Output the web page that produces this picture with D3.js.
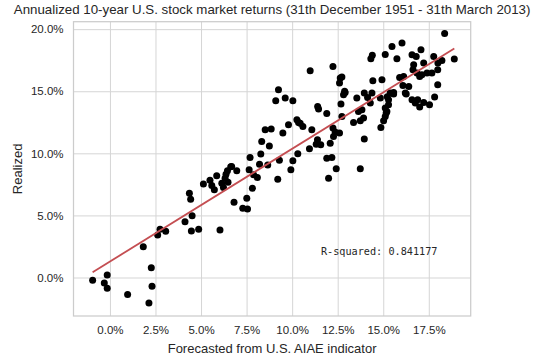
<!DOCTYPE html>
<html>
<head>
<meta charset="utf-8">
<script src="https://cdn.jsdelivr.net/npm/d3@7/dist/d3.min.js"></script>
<style>
  html, body { margin: 0; padding: 0; background: #fff; }
  svg { display: block; }
</style>
</head>
<body>
<svg id="chart" width="536" height="358"></svg>
<script>
// ---- Data (annualized %) ----
const forecasted = [
  -0.95, -0.31, -0.15, -0.15, 0.97, 2.14, 2.31, 2.27, 1.83, 2.62, 2.75, 3.06, 4.12, 4.51, 4.47, 4.87, 6.04, 4.36, 4.43,
  5.13, 5.49, 5.59, 5.73, 5.86, 6.14, 6.23, 6.32, 6.37, 6.45, 6.63, 6.96, 6.48, 6.81, 7.29, 7.55, 7.51, 7.82, 8.09, 7.64,
  7.69, 7.88, 8.21, 8.28, 8.33, 8.52, 8.85, 8.75, 8.66, 9.21, 9.30, 9.49, 9.80, 9.10, 9.62, 10.04, 9.25, 10.26, 10.59,
  10.35, 10.04, 9.93, 10.31, 10.95, 11.08, 11.32, 11.57, 11.40, 11.45, 11.90, 10.44, 10.99, 12.24, 12.64, 12.60, 12.88,
  12.82, 12.68, 12.73, 12.24, 12.36, 12.60, 12.27, 12.09, 11.90, 12.18, 12.42, 12.00, 13.74, 13.96, 13.37, 13.74, 13.92,
  13.64, 13.83, 13.55, 13.96, 14.14, 14.38, 14.29, 14.43, 14.32, 14.40, 15.11, 14.93, 14.84, 15.29, 15.38, 15.57, 15.29,
  15.20, 15.11, 15.02, 14.87, 15.75, 15.48, 16.03, 15.90, 16.08, 16.26, 12.73, 12.91, 11.39, 18.37, 18.90, 18.22, 18.00,
  17.77, 17.99, 17.67, 17.40, 17.12, 17.22, 17.07, 16.81, 16.58, 16.67, 16.63, 16.85, 17.00, 16.12, 16.40, 16.21, 17.99,
  17.82, 17.54, 17.22, 17.00, 16.89, 16.76, 16.58, 15.22, 15.11, 15.16, 15.57, 6.68
];
const realized = [
  -0.23, -0.44, 0.20, -0.87, -1.36, -2.06, -0.71, 0.79, 2.48, 3.43, 3.89, 3.72, 4.48, 4.98, 3.75, 3.89, 3.83, 6.79, 6.30,
  7.52, 7.84, 7.40, 7.06, 8.19, 7.60, 7.24, 8.00, 8.32, 8.59, 8.91, 8.59, 7.68, 6.06, 5.58, 5.52, 6.38, 7.19, 8.05, 8.67,
  9.66, 8.27, 9.13, 9.94, 10.95, 11.90, 11.95, 10.60, 9.07, 7.92, 9.45, 11.63, 12.30, 14.23, 14.45, 14.23, 15.12, 12.70, 12.16,
  12.48, 9.40, 8.67, 9.96, 10.36, 11.90, 10.74, 10.69, 13.77, 13.56, 13.20, 12.43, 16.65, 17.00, 16.06, 15.66, 14.99,
  14.72, 13.97, 12.97, 12.03, 11.71, 11.63, 11.35, 10.82, 9.61, 9.66, 8.75, 8.00, 8.75, 11.15, 12.48, 12.62, 12.84,
  13.37, 13.51, 14.45, 14.85, 14.50, 14.85, 14.05, 15.85, 17.62, 17.90, 17.96, 15.93, 14.45, 14.31, 14.85, 14.77, 13.91,
  13.37, 12.97, 12.62, 12.08, 17.62, 18.61, 18.89, 16.11, 15.47, 14.77, 16.15, 14.90, 11.09, 19.64, 17.60, 17.48, 17.27,
  17.80, 16.73, 16.47, 16.47, 16.33, 17.27, 18.35, 17.80, 17.94, 17.14, 16.73, 16.47, 16.19, 16.19, 15.39, 14.85, 15.52,
  14.53, 13.91, 14.10, 13.73, 14.31, 14.05, 14.31, 14.56, 13.65, 13.24, 14.90, 8.94
];
const xTicks = [0, 2.5, 5, 7.5, 10, 12.5, 15, 17.5];
const yTicks = [0, 5, 10, 15, 20];
const titleText = "Annualized 10-year U.S. stock market returns (31th December 1951 - 31th March 2013)";
const xLabel = "Forecasted from U.S. AIAE indicator";
const yLabel = "Realized";
const rSquaredLabel = "R-squared: 0.841177";

// ---- Layout ----
const frame = { left: 73.5, right: 470.7, top: 21.7, bottom: 316 };
const svg = d3.select("#chart");
const font = "'Liberation Sans', Arial, sans-serif";
const textColor = "#262626";
const gridColor = "#d5d5d5";

const x = d3.scaleLinear().domain([-2.0, 19.8]).range([frame.left, frame.right]);
const y = d3.scaleLinear().domain([-3.1, 20.6]).range([frame.bottom, frame.top]);
const pct = d => d.toFixed(1) + "%";

// grid + tick labels via axes
const gx = svg.append("g").attr("transform", `translate(0,${frame.bottom})`)
  .call(d3.axisBottom(x).tickValues(xTicks).tickFormat(pct).tickSize(-(frame.bottom - frame.top)).tickPadding(10));
const gy = svg.append("g").attr("transform", `translate(${frame.left},0)`)
  .call(d3.axisLeft(y).tickValues(yTicks).tickFormat(pct).tickSize(-(frame.right - frame.left)).tickPadding(10));
[gx, gy].forEach(g => {
  g.select(".domain").remove();
  g.selectAll(".tick line").attr("stroke", gridColor).attr("stroke-width", 1);
  g.selectAll(".tick text").attr("fill", textColor).style("font-family", font).style("font-size", "11.5px");
});

// frame
svg.append("rect")
  .attr("x", frame.left).attr("y", frame.top)
  .attr("width", frame.right - frame.left).attr("height", frame.bottom - frame.top)
  .attr("fill", "none").attr("stroke", "#cccccc").attr("stroke-width", 1.25);

// scatter
const pts = forecasted.map((v, i) => ({ fx: v, ry: realized[i] }));
svg.append("g").selectAll("circle").data(pts).join("circle")
  .attr("cx", d => x(d.fx)).attr("cy", d => y(d.ry)).attr("r", 3.5).attr("fill", "#000");

// least-squares fit line over data x-range
const mx = d3.mean(forecasted), my = d3.mean(realized);
let sxy = 0, sxx = 0;
pts.forEach(p => { sxy += (p.fx - mx) * (p.ry - my); sxx += (p.fx - mx) ** 2; });
const slope = sxy / sxx, icpt = my - slope * mx;
const [x0, x1] = d3.extent(forecasted);
svg.append("line")
  .attr("x1", x(x0)).attr("y1", y(icpt + slope * x0))
  .attr("x2", x(x1)).attr("y2", y(icpt + slope * x1))
  .attr("stroke", "#c44e52").attr("stroke-width", 1.8);

// R-squared annotation
svg.append("text").attr("x", x(11.58)).attr("y", y(1.85))
  .attr("fill", textColor).style("font-family", "'DejaVu Sans Mono', monospace").style("font-size", "10.2px")
  .text(rSquaredLabel);

// title and labels
svg.append("text").attr("x", (frame.left + frame.right) / 2).attr("y", 14)
  .attr("text-anchor", "middle").attr("fill", textColor)
  .style("font-family", font).style("font-size", "13.3px").text(titleText);
svg.append("text").attr("x", (frame.left + frame.right) / 2).attr("y", 353)
  .attr("text-anchor", "middle").attr("fill", textColor)
  .style("font-family", font).style("font-size", "13px").text(xLabel);
svg.append("text").attr("transform", `translate(22,${(frame.top + frame.bottom) / 2}) rotate(-90)`)
  .attr("text-anchor", "middle").attr("fill", textColor)
  .style("font-family", font).style("font-size", "13px").text(yLabel);
</script>
</body>
</html>
